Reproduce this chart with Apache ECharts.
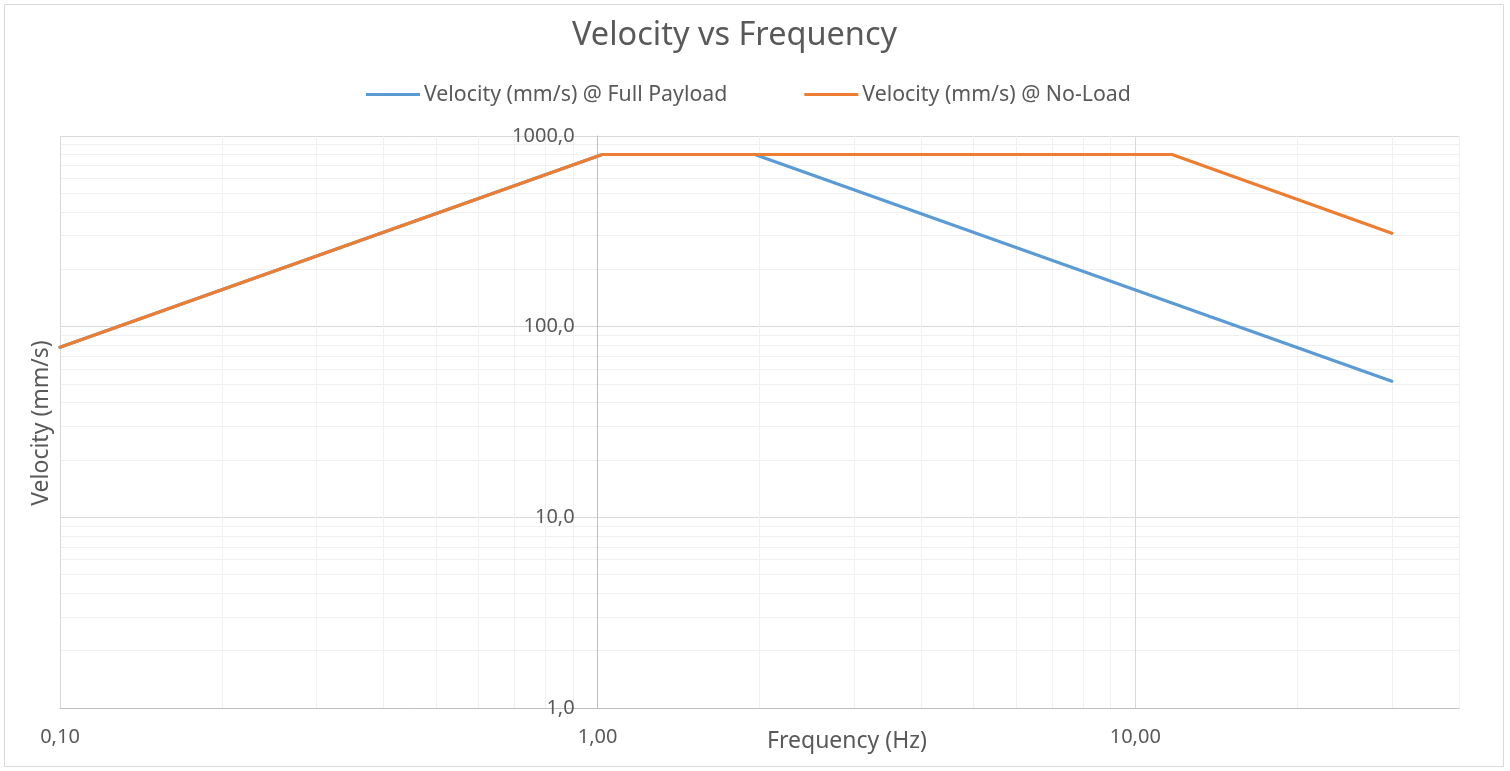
<!DOCTYPE html>
<html>
<head>
<meta charset="utf-8">
<script src="https://cdn.jsdelivr.net/npm/echarts@6/dist/echarts.min.js"></script>
<style>html,body{margin:0;padding:0;background:#fff}#c{width:1510px;height:771px}</style>
</head>
<body>
<div id="c"></div>
<script>
// ---- data ----
const seriesNames = ['Velocity (mm/s) @ Full Payload', 'Velocity (mm/s) @ No-Load'];
const freqFull = [0.1, 1.02, 1.96, 30];
const velFull = [78, 800, 800, 51.7];
const freqNoLoad = [0.1, 1.02, 11.7, 30];
const velNoLoad = [78, 800, 800, 309];
const xMajorGrid = [0.1, 10];
const xMinorGrid = [0.2, 0.3, 0.4, 0.5, 0.6, 0.7, 0.8, 0.9, 2, 3, 4, 5, 6, 7, 8, 9, 20, 30, 40];
const yMinorGrid = [2, 3, 4, 5, 6, 7, 8, 9, 20, 30, 40, 50, 60, 70, 80, 90, 200, 300, 400, 500, 600, 700, 800, 900];

const FONT = 'Noto Sans';
const TXT = '#595959';
const gridL = 60, gridR = 51, gridT = 136, gridB = 63;
const W = 1510, H = 771;
const xMin = 0.1, xMax = 40;
// y axis crosses the x axis at 1 Hz (layout offset)
const pxPerDec = (W - gridL - gridR) / (Math.log10(xMax) - Math.log10(xMin));
const yAxisOffset = -(Math.log10(1) - Math.log10(xMin)) * pxPerDec;

const zip = (a, b) => a.map((v, i) => [v, b[i]]);

const chart = echarts.init(document.getElementById('c'));
chart.setOption({
  backgroundColor: '#fff',
  animation: false,
  textStyle: { fontFamily: FONT },
  title: {
    text: 'Velocity vs Frequency', left: 567, top: 14,
    textStyle: { fontFamily: FONT, fontSize: 32.5, fontWeight: 'normal', color: TXT }
  },
  legend: {
    data: seriesNames, top: 79, left: 361, itemWidth: 54, itemHeight: 3, itemGap: 77,
    icon: 'rect',
    textStyle: { fontFamily: FONT, fontSize: 21.3, color: TXT, padding: [0, 0, 0, -1] }
  },
  grid: { left: gridL, right: gridR, top: gridT, bottom: gridB },
  xAxis: {
    type: 'log', logBase: 10, min: xMin, max: xMax,
    axisLine: { show: true, lineStyle: { color: '#bfbfbf', width: 1 } },
    axisTick: { show: false },
    splitLine: { show: false },
    axisLabel: {
      showMaxLabel: false, margin: 19, color: TXT, fontFamily: FONT, fontSize: 20,
      formatter: v => (Math.abs(Math.log10(v) - Math.round(Math.log10(v))) < 1e-6 ? v.toFixed(2).replace('.', ',') : '')
    }
  },
  yAxis: {
    type: 'log', logBase: 10, min: 1, max: 1000, offset: yAxisOffset,
    axisLine: { show: true, lineStyle: { color: '#bfbfbf', width: 1 } },
    axisTick: { show: false },
    splitLine: { show: true, lineStyle: { color: '#d9d9d9', width: 1 } },
    axisLabel: {
      margin: 23, color: TXT, fontFamily: FONT, fontSize: 20,
      formatter: v => v.toFixed(1).replace('.', ',')
    }
  },
  graphic: [
    { type: 'rect', shape: { x: 4.5, y: 4.5, width: 1499, height: 762 },
      style: { fill: 'none', stroke: '#d9d9d9', lineWidth: 1 }, silent: true, z: -10 },
    { type: 'text', x: 847, y: 741, silent: true,
      style: { text: 'Frequency (Hz)', fill: TXT, font: '23px "' + FONT + '"', textAlign: 'center', textVerticalAlign: 'middle' } },
    { type: 'text', x: 41, y: 423, rotation: Math.PI / 2, silent: true,
      style: { text: 'Velocity (mm/s)', fill: TXT, font: '23px "' + FONT + '"', textAlign: 'center', textVerticalAlign: 'middle' } }
  ],
  series: [
    {
      name: '_grid', type: 'line', data: [], z: 0, silent: true,
      markLine: {
        z: 0, silent: true, symbol: ['none', 'none'], label: { show: false }, animation: false,
        data: [].concat(
          xMinorGrid.map(v => ({ xAxis: v, lineStyle: { color: '#f0f0f0', width: 1, type: 'solid' } })),
          yMinorGrid.map(v => ({ yAxis: v, lineStyle: { color: '#f0f0f0', width: 1, type: 'solid' } })),
          xMajorGrid.map(v => ({ xAxis: v, lineStyle: { color: '#d9d9d9', width: 1, type: 'solid' } }))
        )
      }
    },
    {
      name: seriesNames[0], type: 'line', data: zip(freqFull, velFull), z: 3,
      showSymbol: false, symbol: 'none', color: '#5B9BD5',
      lineStyle: { width: 3.2, color: '#5B9BD5', cap: 'round', join: 'round' }
    },
    {
      name: seriesNames[1], type: 'line', data: zip(freqNoLoad, velNoLoad), z: 4,
      showSymbol: false, symbol: 'none', color: '#ED7D31',
      lineStyle: { width: 3.2, color: '#ED7D31', cap: 'round', join: 'round' }
    }
  ]
});
</script>
</body>
</html>
